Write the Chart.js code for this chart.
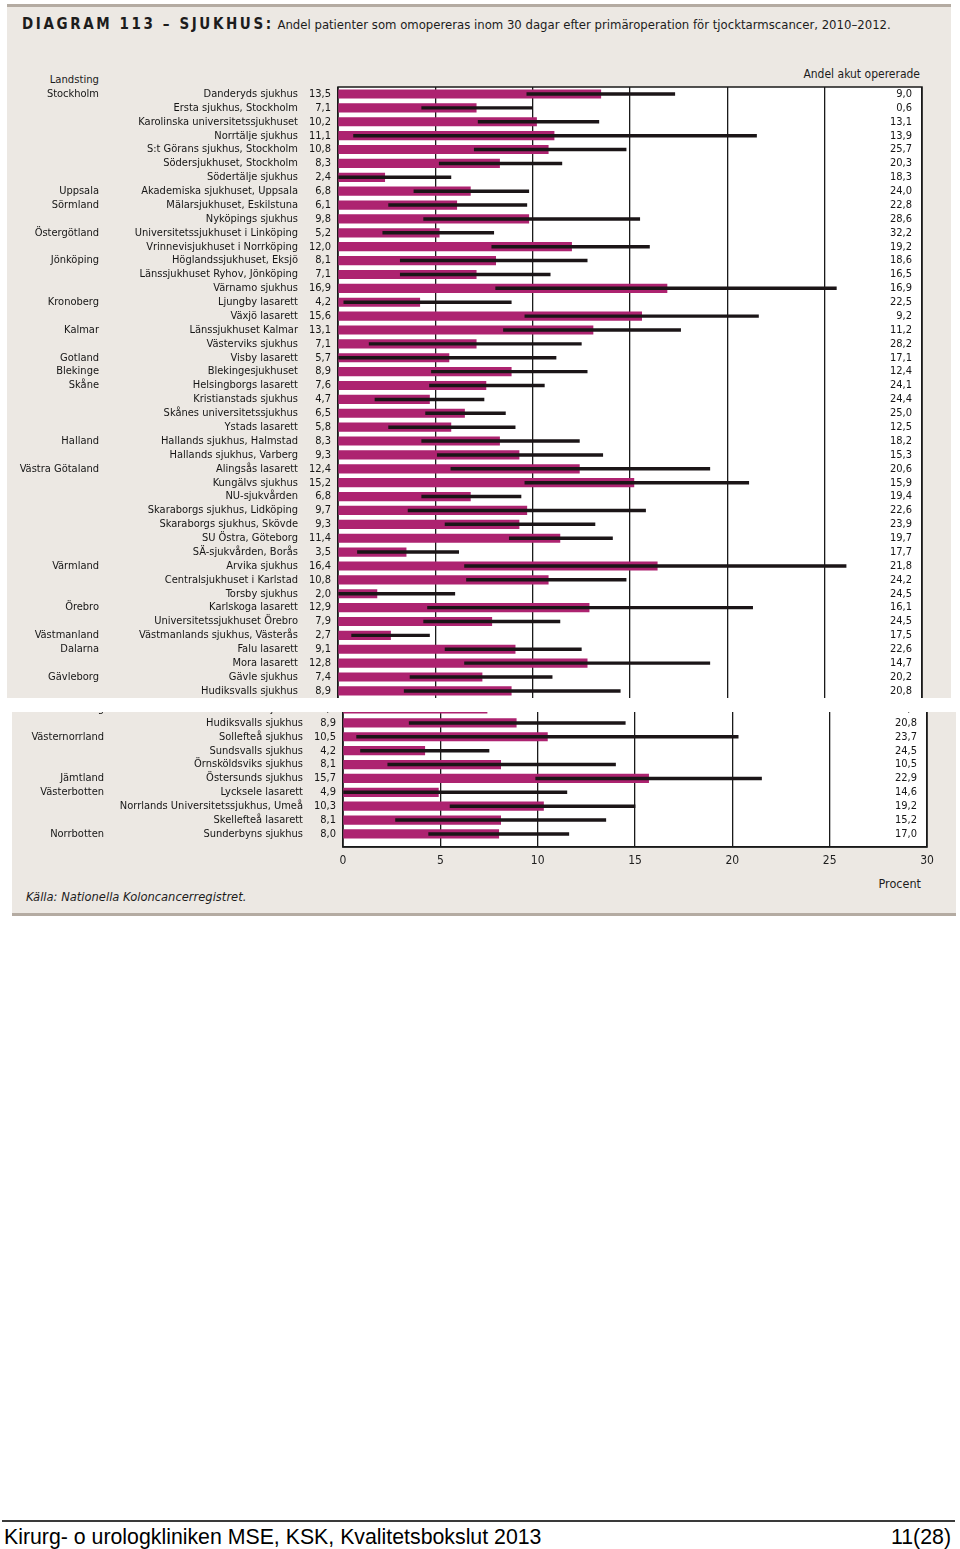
<!DOCTYPE html>
<html lang="sv">
<head>
<meta charset="utf-8">
<title>Diagram 113 – sjukhus</title>
<script src="https://cdn.jsdelivr.net/npm/chart.js@4.4.0/dist/chart.umd.min.js"></script>
<style>
  html, body { margin: 0; padding: 0; background: #fff; }
  body { width: 960px; height: 1549px; position: relative; overflow: hidden;
         font-family: "Liberation Sans Narrow", "DejaVu Sans Condensed", "Liberation Sans", sans-serif; color: #1c1c1c; }
  .win { position: absolute; left: 0; width: 960px; overflow: hidden; }
  .panel { position: absolute; width: 960px; height: 890px; }
  .bg { position: absolute; left: 7px; top: 4px; width: 944px; height: 874px; background: #ece8e3;
        border-top: 3px solid #b4aba2; border-bottom: 3px solid #b4aba2; }
  .panel canvas { position: absolute; left: 0; top: 0; }
  .txt { position: absolute; white-space: nowrap; line-height: 16px; }
  .title { left: 22px; top: 16px; font-size: 13px; }
  .title b { font-family: "DejaVu Sans Condensed", sans-serif; font-weight: bold; font-size: 15px; letter-spacing: 2.6px; }
  .land { left: 0; width: 99px; text-align: right; top: 72px; font-size: 11.2px; }
  .akut { right: 40px; top: 66px; font-size: 12px; }
  .procent { right: 44px; top: 844px; font-size: 12.5px; }
  .kalla { left: 21px; top: 857px; font-size: 12.8px; font-style: italic; }
  .foot-line { position: absolute; left: 2px; top: 1520px; width: 953px; height: 2px; background: #3a3a3a; }
  .foot { position: absolute; top: 1526px; font-family: "Liberation Sans", Arial, sans-serif; font-size: 21.3px; color: #000; line-height: 22px; }
</style>
</head>
<body>
<div class="win" id="winTop" style="top:0;height:698px;"></div>
<div class="win" id="winBottom" style="top:712px;height:210px;"></div>
<div class="foot-line"></div>
<div class="foot" style="left:4px;">Kirurg- o urologkliniken MSE, KSK, Kvalitetsbokslut 2013</div>
<div class="foot" style="right:9px;">11(28)</div>

<script>
// landsting (tom sträng = samma som raden ovanför)
const landsting = ['Stockholm','','','','','','','Uppsala','Sörmland','','Östergötland','','Jönköping','','',
  'Kronoberg','','Kalmar','','Gotland','Blekinge','Skåne','','','','Halland','','Västra Götaland','','','','','','',
  'Värmland','','','Örebro','','Västmanland','Dalarna','','Gävleborg','','Västernorrland','','','Jämtland',
  'Västerbotten','','','Norrbotten'];

const sjukhus = ['Danderyds sjukhus','Ersta sjukhus, Stockholm','Karolinska universitetssjukhuset','Norrtälje sjukhus',
  'S:t Görans sjukhus, Stockholm','Södersjukhuset, Stockholm','Södertälje sjukhus','Akademiska sjukhuset, Uppsala',
  'Mälarsjukhuset, Eskilstuna','Nyköpings sjukhus','Universitetssjukhuset i Linköping','Vrinnevisjukhuset i Norrköping',
  'Höglandssjukhuset, Eksjö','Länssjukhuset Ryhov, Jönköping','Värnamo sjukhus','Ljungby lasarett','Växjö lasarett',
  'Länssjukhuset Kalmar','Västerviks sjukhus','Visby lasarett','Blekingesjukhuset','Helsingborgs lasarett',
  'Kristianstads sjukhus','Skånes universitetssjukhus','Ystads lasarett','Hallands sjukhus, Halmstad',
  'Hallands sjukhus, Varberg','Alingsås lasarett','Kungälvs sjukhus','NU-sjukvården','Skaraborgs sjukhus, Lidköping',
  'Skaraborgs sjukhus, Skövde','SU Östra, Göteborg','SÄ-sjukvården, Borås','Arvika sjukhus','Centralsjukhuset i Karlstad',
  'Torsby sjukhus','Karlskoga lasarett','Universitetssjukhuset Örebro','Västmanlands sjukhus, Västerås','Falu lasarett',
  'Mora lasarett','Gävle sjukhus','Hudiksvalls sjukhus','Sollefteå sjukhus','Sundsvalls sjukhus','Örnsköldsviks sjukhus',
  'Östersunds sjukhus','Lycksele lasarett','Norrlands Universitetssjukhus, Umeå','Skellefteå lasarett','Sunderbyns sjukhus'];

// andel omopererade (%)
const andel = [13.5,7.1,10.2,11.1,10.8,8.3,2.4,6.8,6.1,9.8,5.2,12.0,8.1,7.1,16.9,4.2,15.6,13.1,7.1,5.7,8.9,7.6,4.7,6.5,
  5.8,8.3,9.3,12.4,15.2,6.8,9.7,9.3,11.4,3.5,16.4,10.8,2.0,12.9,7.9,2.7,9.1,12.8,7.4,8.9,10.5,4.2,8.1,15.7,4.9,10.3,8.1,8.0];

// konfidensintervall
const ciLow = [9.7,4.3,7.2,0.8,7.0,5.2,0.0,3.9,2.6,4.4,2.3,7.9,3.2,3.2,8.1,0.3,9.6,8.5,1.6,0.0,4.8,4.7,1.9,4.5,
  2.6,4.3,5.1,5.8,9.6,4.3,3.6,5.5,8.8,1.0,6.5,6.6,0.0,4.6,4.4,0.7,5.5,6.5,3.7,3.4,0.7,0.9,2.3,9.9,0.0,5.5,2.7,4.4];
const ciHigh = [17.3,10.0,13.4,21.5,14.8,11.5,5.8,9.8,9.7,15.5,8.0,16.0,12.8,10.9,25.6,8.9,21.6,17.6,12.5,11.2,12.8,10.6,
  7.5,8.6,9.1,12.4,13.6,19.1,21.1,9.4,15.8,13.2,14.1,6.2,26.1,14.8,6.0,21.3,11.4,4.7,12.5,19.1,11.0,14.5,20.3,7.5,14.0,
  21.5,11.5,15.0,13.5,11.6];

// andel akut opererade (%)
const akut = [9.0,0.6,13.1,13.9,25.7,20.3,18.3,24.0,22.8,28.6,32.2,19.2,18.6,16.5,16.9,22.5,9.2,11.2,28.2,17.1,12.4,24.1,
  24.4,25.0,12.5,18.2,15.3,20.6,15.9,19.4,22.6,23.9,19.7,17.7,21.8,24.2,24.5,16.1,24.5,17.5,22.6,14.7,20.2,20.8,23.7,24.5,
  10.5,22.9,14.6,19.2,15.2,17.0];

const xTicks = [0, 5, 10, 15, 20, 25, 30];

const FONT = '"Liberation Sans Narrow", "DejaVu Sans Condensed", "Liberation Sans", sans-serif';
const fmt = v => v.toFixed(1).replace('.', ',');

const rowText = {
  id: 'rowText',
  beforeDraw(chart) {
    const { ctx, chartArea: a } = chart;
    ctx.save();
    ctx.fillStyle = '#fff';
    ctx.fillRect(a.left, a.top, a.right - a.left, a.bottom - a.top);
    ctx.restore();
  },
  beforeDatasetsDraw(chart) {
    const { ctx, chartArea: a } = chart;
    ctx.save();
    ctx.strokeStyle = '#1a1a1a';
    ctx.lineWidth = 1.5;
    ctx.strokeRect(a.left, a.top, a.right - a.left, a.bottom - a.top);
    ctx.restore();
  },
  afterDraw(chart) {
    const { ctx } = chart;
    const y = chart.scales.y, x = chart.scales.x;
    ctx.save();
    ctx.font = '11px ' + FONT;
    ctx.fillStyle = '#151515';
    ctx.textBaseline = 'middle';
    ctx.textAlign = 'right';
    sjukhus.forEach((name, i) => {
      const py = y.getPixelForValue(i);
      if (landsting[i]) ctx.fillText(landsting[i], 99, py);
      ctx.fillText(name, 298, py);
      ctx.fillText(fmt(andel[i]), 331, py);
      ctx.fillText(fmt(akut[i]), x.right - 10, py);
    });
    ctx.restore();
  }
};

function buildPanel(win, dx, dy) {
  const panel = document.createElement('div');
  panel.className = 'panel';
  panel.style.left = dx + 'px';
  panel.style.top = dy + 'px';
  panel.innerHTML =
    '<div class="bg"></div>' +
    '<div class="txt title"><b>DIAGRAM 113 – SJUKHUS:</b> Andel patienter som omopereras inom 30 dagar efter primäroperation för tjocktarmscancer, 2010–2012.</div>' +
    '<div class="txt land">Landsting</div>' +
    '<div class="txt akut">Andel akut opererade</div>' +
    '<div class="txt procent">Procent</div>' +
    '<div class="txt kalla">Källa: Nationella Koloncancerregistret.</div>';
  const canvas = document.createElement('canvas');
  canvas.width = 960; canvas.height = 890;
  canvas.style.width = '960px'; canvas.style.height = '890px';
  panel.appendChild(canvas);
  win.appendChild(panel);

  new Chart(canvas.getContext('2d'), {
    type: 'bar',
    data: {
      datasets: [
        {
          label: 'Konfidensintervall',
          data: sjukhus.map((s, i) => ({ x: [ciLow[i], ciHigh[i]], y: i })),
          backgroundColor: '#1b1517',
          barThickness: 2.8,
          grouped: false,
          order: 0
        },
        {
          label: 'Andel omopererade',
          data: sjukhus.map((s, i) => ({ x: andel[i], y: i })),
          backgroundColor: '#ad2370',
          barThickness: 8.5,
          grouped: false,
          order: 1
        }
      ]
    },
    options: {
      indexAxis: 'y',
      responsive: false,
      animation: false,
      layout: { padding: { left: 338, right: 38, top: 87, bottom: 46.6 } },
      plugins: { legend: { display: false }, tooltip: { enabled: false } },
      scales: {
        x: {
          type: 'linear', min: 0, max: 30,
          afterBuildTicks: s => { s.ticks = xTicks.map(v => ({ value: v })); },
          grid: { color: '#1a1a1a', lineWidth: 1.3, drawTicks: false },
          border: { display: true, color: '#1a1a1a', width: 1.5 },
          ticks: { padding: 7, color: '#1e1e1e', font: { family: FONT, size: 12 } }
        },
        y: {
          type: 'linear', min: -0.505, max: 51.94, reverse: true, offset: false,
          grid: { offset: false }, display: false
        }
      }
    },
    plugins: [rowText]
  });
}

buildPanel(document.getElementById('winTop'), 0, 0);
buildPanel(document.getElementById('winBottom'), 5, -680);
</script>
</body>
</html>
